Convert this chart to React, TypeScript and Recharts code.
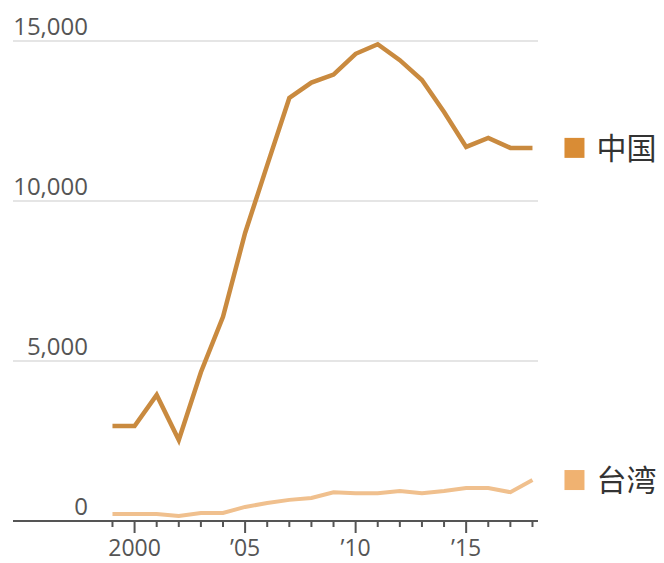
import React from 'react';
import { LineChart, Line, XAxis, YAxis, CartesianGrid } from 'recharts';

const years = [1999, 2000, 2001, 2002, 2003, 2004, 2005, 2006, 2007, 2008, 2009, 2010, 2011, 2012, 2013, 2014, 2015, 2016, 2017, 2018];
const china = [2970, 2970, 3940, 2530, 4650, 6380, 9000, 11120, 13220, 13700, 13950, 14600, 14900, 14400, 13780, 12780, 11690, 11970, 11660, 11660];
const taiwan = [220, 220, 220, 160, 250, 250, 440, 560, 660, 720, 900, 870, 870, 940, 870, 940, 1030, 1030, 900, 1280];
const yTicks = [0, 5000, 10000, 15000];
const majorYears: Record<number, string> = { 2000: '2000', 2005: '\u201905', 2010: '\u201910', 2015: '\u201915' };

const data = years.map((year, i) => ({ year, china: china[i], taiwan: taiwan[i] }));

const FONT = '"Open Sans", "Noto Sans", sans-serif';
const CJK = '"Noto Sans CJK SC", "Noto Sans", sans-serif';

// year ticks: long mark + label on the major years, short mark otherwise
const XTick = (props: any) => {
  const { x, y, payload } = props;
  const label = majorYears[payload.value];
  return (
    <g>
      <line x1={x} x2={x} y1={y - 8} y2={y + (label ? 4 : -2)} stroke="#555" strokeWidth={2} />
      {label && (
        <text x={x} y={y + 27} textAnchor="middle" fontSize={23} fill="#555" fontFamily={FONT}>
          {label}
        </text>
      )}
    </g>
  );
};

// value labels sit above their gridline, right-aligned
const YTick = (props: any) => {
  const { y, payload } = props;
  return (
    <text x={88} y={y - 6} textAnchor="end" fontSize={24} fill="#555" fontFamily={FONT}>
      {Number(payload.value).toLocaleString('en-US')}
    </text>
  );
};

const endLabel = (name: string, color: string) => (props: any) => {
  const { x, y, index } = props;
  if (index !== years.length - 1) return null;
  return (
    <g>
      <rect x={x + 32} y={y - 10} width={20} height={20} fill={color} />
      <text x={x + 64} y={y + 11} fontSize={30} fill="#333" fontFamily={CJK}>
        {name}
      </text>
    </g>
  );
};

export default function App() {
  return (
    <div style={{ position: 'absolute', left: 0, top: 0, background: '#fff' }}>
      <LineChart width={664} height={563} data={data} margin={{ top: 41, right: 126, bottom: 0, left: 12 }}>
        <CartesianGrid vertical={false} stroke="#dcdcdc" strokeWidth={1.5} horizontalValues={[5000, 10000, 15000]} />
        <XAxis
          dataKey="year"
          type="number"
          domain={[1994.5, 2018.25]}
          ticks={years}
          interval={0}
          tick={<XTick />}
          tickLine={false}
          axisLine={{ stroke: '#555', strokeWidth: 2 }}
          height={42}
        />
        <YAxis
          domain={[0, 15000]}
          ticks={yTicks}
          interval={0}
          width={1}
          axisLine={false}
          tickLine={false}
          tick={<YTick />}
          allowDataOverflow
        />
        <Line
          type="linear"
          dataKey="taiwan"
          stroke="#f0c08e"
          strokeWidth={4}
          dot={false}
          isAnimationActive={false}
          label={endLabel('台湾', '#f0b271')}
        />
        <Line
          type="linear"
          dataKey="china"
          stroke="#c98a3f"
          strokeWidth={4.5}
          dot={false}
          isAnimationActive={false}
          label={endLabel('中国', '#d98c35')}
        />
      </LineChart>
    </div>
  );
}
